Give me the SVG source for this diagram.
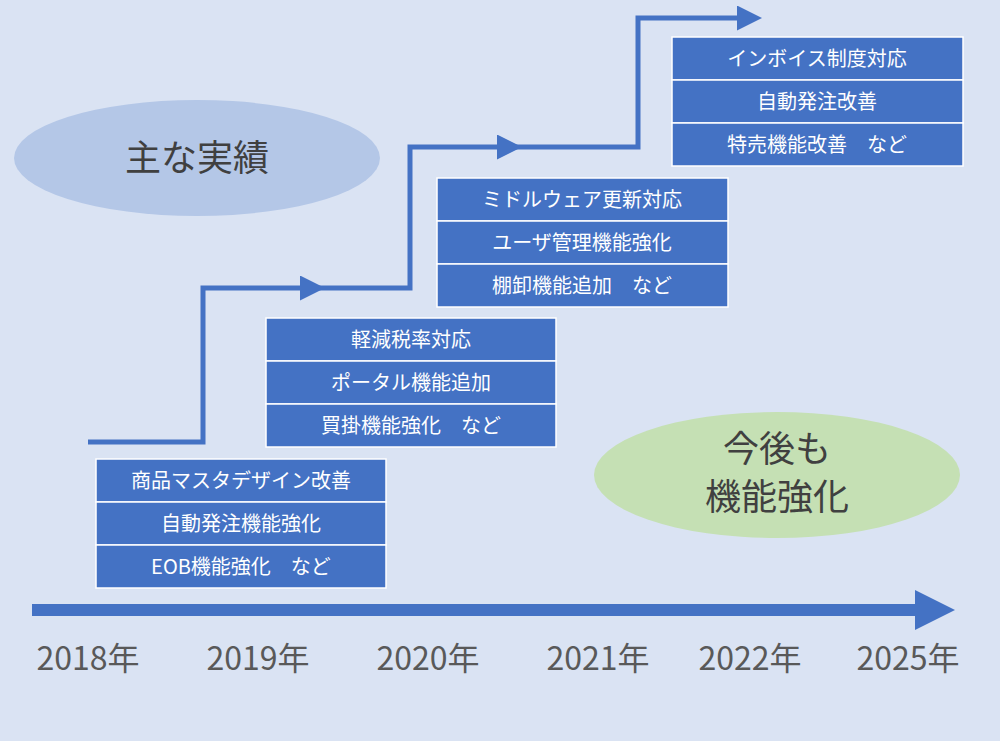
<svg xmlns="http://www.w3.org/2000/svg" width="1000" height="741" viewBox="0 0 1000 741">
<style>
.b{fill:#4472c4;stroke:#fff;stroke-width:1.5}
.t{font-family:"Noto Sans CJK JP",sans-serif;font-size:20px;fill:#fff;text-anchor:middle}
.y{font-family:"Noto Sans CJK JP",sans-serif;font-size:32px;fill:#595959;text-anchor:middle}
.e{font-family:"Noto Sans CJK JP",sans-serif;font-size:36px;fill:#404040;text-anchor:middle}
.l{fill:none;stroke:#4472c4;stroke-width:5}
</style>
<defs><marker id="a" markerWidth="5" markerHeight="5" refX="1" refY="2.5" orient="auto" markerUnits="strokeWidth"><path d="M0,0L5,2.5L0,5z" fill="#4472c4"/></marker></defs>
<rect width="1000" height="741" fill="#dae3f3"/>
<g id="e1"><ellipse cx="197" cy="158" rx="183" ry="58" fill="#b4c7e7"/><text class="e" x="197" y="171">主な実績</text></g>
<g id="e2"><ellipse cx="777" cy="475" rx="183" ry="63" fill="#c5e0b4"/><text class="e" x="777" y="462">今後も</text><text class="e" x="777" y="510">機能強化</text></g>
<g id="connectors">
<path class="l" d="M88,442H203V288H305" marker-end="url(#a)"/>
<path class="l" d="M318,288H410V147H502" marker-end="url(#a)"/>
<path class="l" d="M515,147H638V18H742" marker-end="url(#a)"/>
<path d="M32,610H920" stroke="#4472c4" stroke-width="12"/>
<path d="M915,590L955,610L915,630z" fill="#4472c4"/>
</g>
<g id="g1"><rect class="b" x="96" y="459" width="290" height="43"/><rect class="b" x="96" y="502" width="290" height="43"/><rect class="b" x="96" y="545" width="290" height="43"/>
<text class="t" x="241" y="488">商品マスタデザイン改善</text><text class="t" x="241" y="531">自動発注機能強化</text><text class="t" x="241" y="574">EOB機能強化　など</text></g>
<g id="g2"><rect class="b" x="266" y="318" width="290" height="43"/><rect class="b" x="266" y="361" width="290" height="43"/><rect class="b" x="266" y="404" width="290" height="43"/>
<text class="t" x="411" y="347">軽減税率対応</text><text class="t" x="411" y="390">ポータル機能追加</text><text class="t" x="411" y="433">買掛機能強化　など</text></g>
<g id="g3"><rect class="b" x="437" y="178" width="291" height="43"/><rect class="b" x="437" y="221" width="291" height="43"/><rect class="b" x="437" y="264" width="291" height="43"/>
<text class="t" x="582" y="207">ミドルウェア更新対応</text><text class="t" x="582" y="250">ユーザ管理機能強化</text><text class="t" x="582" y="293">棚卸機能追加　など</text></g>
<g id="g4"><rect class="b" x="672" y="37" width="291" height="43"/><rect class="b" x="672" y="80" width="291" height="43"/><rect class="b" x="672" y="123" width="291" height="43"/>
<text class="t" x="817" y="66">インボイス制度対応</text><text class="t" x="817" y="109">自動発注改善</text><text class="t" x="817" y="152">特売機能改善　など</text></g>
<g id="years"><text class="y" x="88" y="670">2018年</text><text class="y" x="258" y="670">2019年</text><text class="y" x="428" y="670">2020年</text><text class="y" x="598" y="670">2021年</text><text class="y" x="750" y="670">2022年</text><text class="y" x="908" y="670">2025年</text></g>
</svg>
